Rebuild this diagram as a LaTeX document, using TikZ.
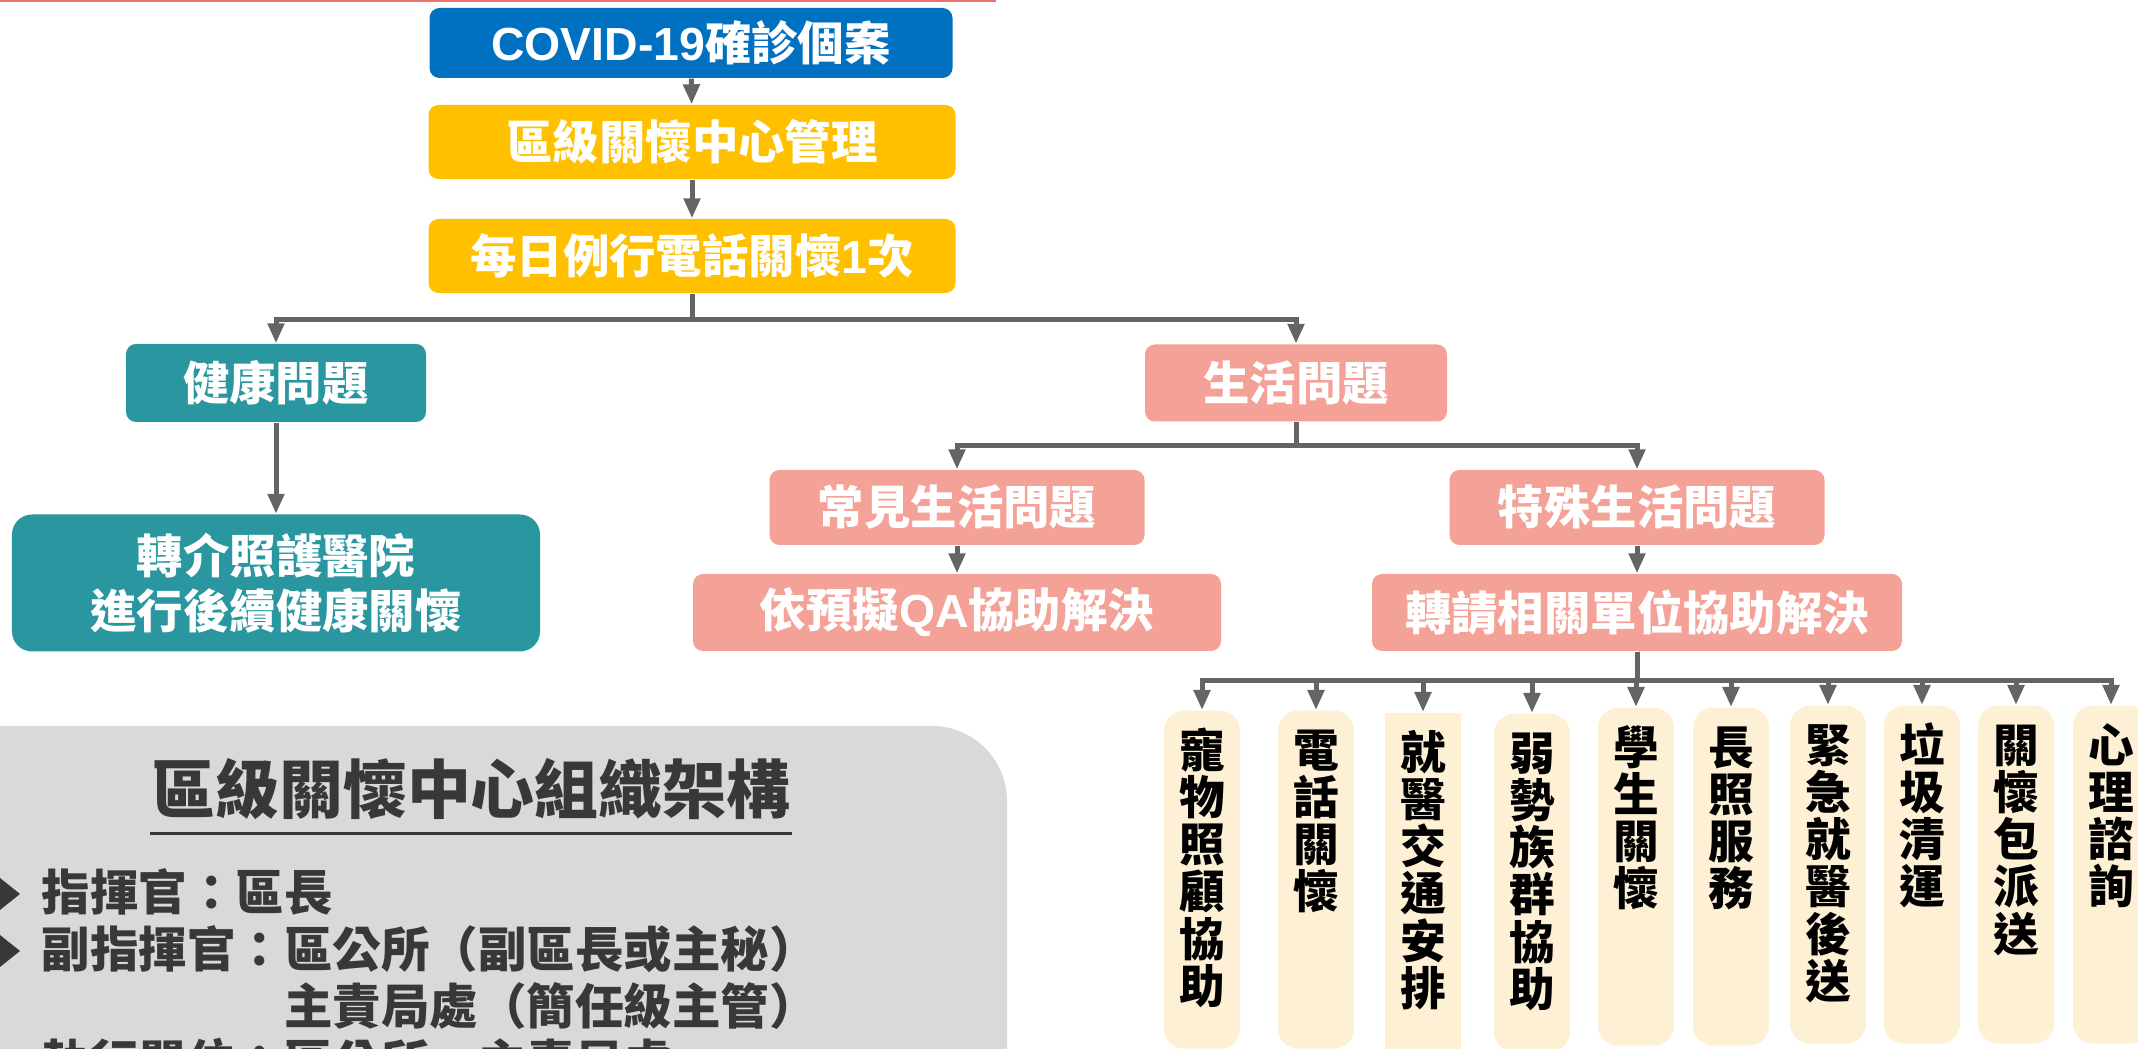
\documentclass[tikz,border=0pt]{standalone}
\usepackage{fontspec}
\setmainfont{Noto Sans CJK TC}
\newfontfamily\latin{Liberation Sans}
\usetikzlibrary{arrows.meta}

\definecolor{covidblue}{HTML}{0070C0}
\definecolor{careyellow}{HTML}{FFC000}
\definecolor{healthteal}{HTML}{2996A0}
\definecolor{lifepink}{HTML}{F4A298}
\definecolor{unitcream}{HTML}{FDF0D5}
\definecolor{linkgray}{HTML}{646464}
\definecolor{panelgray}{HTML}{D9D9D9}
\definecolor{inkgray}{HTML}{383838}
\definecolor{topred}{HTML}{E8736C}

% one character per line, first line on the baseline
\newcommand{\vchars}[1]{\parbox[t]{1em}{\centering #1}}

\tikzstyle{box} = [rounded corners=0.1cm, text=white, inner sep=0pt, font=\fontsize{13.2}{15.5}\selectfont\bfseries]
\tikzstyle{unit} = [fill=unitcream, rounded corners=0.2cm, anchor=north, minimum width=0.76cm, inner xsep=0pt, inner ysep=0.17cm, text height=0.40cm, text depth=2.64cm, font=\fontsize{13}{13.4}\selectfont\bfseries]
\tikzstyle{link} = [draw=linkgray, line width=0.05cm, -{Triangle[width=0.16cm,length=0.2cm]}]

\begin{document}
\begin{tikzpicture}
	\useasboundingbox (0,0) rectangle (21.38,-10.49);
	\clip (0,0) rectangle (21.38,-10.49);
	\draw[topred, line width=0.03cm] (0,-0.01) -- (9.96,-0.01);
	
	\node[box, fill=covidblue, minimum width=5.23cm, minimum height=0.70cm] (covid) at (6.91,-0.43) {{\latin COVID-19}確診個案};
	\node[box, fill=careyellow, minimum width=5.27cm, minimum height=0.74cm] (mgmt) at (6.92,-1.42) {區級關懷中心管理};
	\node[box, fill=careyellow, minimum width=5.27cm, minimum height=0.74cm] (daily) at (6.92,-2.56) {每日例行電話關懷{\latin 1}次};
	
	\node[box, fill=healthteal, minimum width=3.00cm, minimum height=0.78cm] (health) at (2.76,-3.83) {健康問題};
	\node[box, fill=healthteal, rounded corners=0.2cm, align=center, minimum width=5.28cm, minimum height=1.37cm] (refer) at (2.76,-5.83) {轉介照護醫院\\進行後續健康關懷};
	
	\node[box, fill=lifepink, minimum width=3.02cm, minimum height=0.77cm] (life) at (12.96,-3.83) {生活問題};
	\node[box, fill=lifepink, minimum width=3.75cm, minimum height=0.75cm] (common) at (9.57,-5.075) {常見生活問題};
	\node[box, fill=lifepink, minimum width=3.75cm, minimum height=0.75cm] (special) at (16.37,-5.075) {特殊生活問題};
	\node[box, fill=lifepink, minimum width=5.28cm, minimum height=0.77cm] (qa) at (9.57,-6.125) {依預擬{\latin QA}協助解決};
	\node[box, fill=lifepink, minimum width=5.30cm, minimum height=0.77cm] (transfer) at (16.37,-6.125) {轉請相關單位協助解決};
	
	\node[unit] (pet) at (12.02,-7.10) {\vchars{寵\\物\\照\\顧\\協\\助}};
	\node[unit] (phone) at (13.16,-7.10) {\vchars{電\\話\\關\\懷}};
	\node[unit, sharp corners] (ride) at (14.23,-7.12) {\vchars{就\\醫\\交\\通\\安\\排}};
	\node[unit] (weak) at (15.32,-7.13) {\vchars{弱\\勢\\族\\群\\協\\助}};
	\node[unit] (student) at (16.36,-7.07) {\vchars{學\\生\\關\\懷}};
	\node[unit] (ltc) at (17.31,-7.07) {\vchars{長\\照\\服\\務}};
	\node[unit] (emerg) at (18.28,-7.05) {\vchars{緊\\急\\就\\醫\\後\\送}};
	\node[unit] (trash) at (19.22,-7.05) {\vchars{垃\\圾\\清\\運}};
	\node[unit] (pack) at (20.16,-7.05) {\vchars{關\\懷\\包\\派\\送}};
	\node[unit] (psych) at (21.11,-7.05) {\vchars{心\\理\\諮\\詢}};
	
	\draw[link] (covid) -- (mgmt);
	\draw[link] (mgmt) -- (daily);
	\draw[link] (daily.south) -- ++(0,-0.26) -| (health.north);
	\draw[link] (daily.south) -- ++(0,-0.26) -| (life.north);
	\draw[link] (health) -- (refer);
	\draw[link] (life.south) -- ++(0,-0.235) -| (common.north);
	\draw[link] (life.south) -- ++(0,-0.235) -| (special.north);
	\draw[link] (common) -- (qa);
	\draw[link] (special) -- (transfer);
	\draw[link] (transfer.south) -- ++(0,-0.29) -| (pet.north);
	\draw[link] (transfer.south) -- ++(0,-0.29) -| (phone.north);
	\draw[link] (transfer.south) -- ++(0,-0.29) -| (ride.north);
	\draw[link] (transfer.south) -- ++(0,-0.29) -| (weak.north);
	\draw[link] (transfer.south) -- ++(0,-0.29) -| (student.north);
	\draw[link] (transfer.south) -- ++(0,-0.29) -| (ltc.north);
	\draw[link] (transfer.south) -- ++(0,-0.29) -| (emerg.north);
	\draw[link] (transfer.south) -- ++(0,-0.29) -| (trash.north);
	\draw[link] (transfer.south) -- ++(0,-0.29) -| (pack.north);
	\draw[link] (transfer.south) -- ++(0,-0.29) -| (psych.north);
	
	% panel
	\fill[panelgray, rounded corners=0.75cm] (-1,-7.26) rectangle (10.07,-11.5);
	\node[inner sep=0pt, anchor=base, text=inkgray, font=\fontsize{18.2}{22}\selectfont\bfseries] (orgtitle) at (4.71,-8.135) {區級關懷中心組織架構};
	\draw[inkgray, line width=0.035cm] ([yshift=-0.2cm]orgtitle.base west) -- ([yshift=-0.2cm]orgtitle.base east);
	\node[inner sep=0pt, anchor=base west, align=left, text=inkgray, font=\fontsize{13.8}{16.2}\selectfont\bfseries] (roles) at (0.41,-10.81) {指揮官：區長\\副指揮官：區公所（副區長或主秘）\\\hspace*{5em}主責局處（簡任級主管）\\執行單位：區公所、主責局處};
	\foreach \y in {-8.94,-9.51,-10.65}
		\fill[inkgray] (-0.2,\y) -- (0,{\y+0.16}) -- (0.2,\y) -- (0,{\y-0.16}) -- cycle;
\end{tikzpicture}
\end{document}
